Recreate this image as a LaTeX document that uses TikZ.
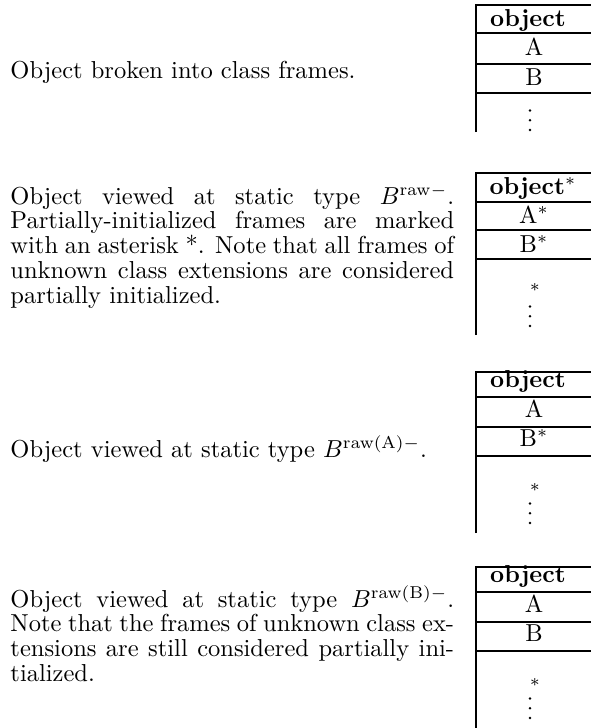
\documentclass[tikz,border=0pt]{standalone}
\newcommand\jline[1]{\hbox to 181pt{#1}}
\newcommand\nline[1]{\hbox{#1}}
\newcommand\parastack[1]{\vtop{\baselineskip=10.1pt\lineskiplimit=-10pt\relax #1}}
\tikzset{
  rowrule/.style={line width=0.55pt},
  edgerule/.style={line width=1.15pt},
  desc/.style={anchor=base west, inner sep=0pt},
  cell/.style={anchor=base, inner sep=0pt},
  star/.style={inner sep=0pt},
}
\newcommand\classbox[5]{%
  \draw[edgerule] (476,#5) -- (476,#1) -- (591,#1);
  \draw[rowrule] (476,#2) -- (591,#2) (476,#3) -- (591,#3) (476,#4) -- (591,#4);
}
% vertical ellipsis drawn as three dots; argument = centre of the lowest dot
\newcommand\vdotsat[1]{%
  \fill (530,#1) circle[radius=0.55pt] (530,#1-9.8) circle[radius=0.55pt] (530,#1-19.6) circle[radius=0.55pt];
}
\begin{document}
\begin{tikzpicture}[x=0.408pt, y=-0.408pt]
\useasboundingbox (0,0) rectangle (591,728);

% Panel 1
\node[desc] (t1) at (10,78) {Object broken into class frames.};
\classbox{5}{33}{64}{93}{132}
\node[cell] (o1) at (528,26) {\bfseries object};
\node[cell] (a1) at (534,55) {A};
\node[cell] (b1) at (534,85) {B};
\vdotsat{130}

% Panel 2
\node[desc] (t2) at (10,204) {\parastack{%
\jline{Object viewed at static type $B^{\mathrm{raw}-}$.}
\jline{Partially-initialized frames are marked}
\jline{with an asterisk *. Note that all frames of}
\jline{unknown class extensions are considered}
\nline{partially initialized.}}};
\classbox{173}{202}{230}{259}{335}
\node[cell] (o2) at (533,194) {\bfseries object$^*$};
\node[cell] (a2) at (534,223) {A$^*$};
\node[cell] (b2) at (534,252) {B$^*$};
\node[star] (s2) at (535,288) {$\scriptstyle\ast$};
\vdotsat{326}

% Panel 3
\node[desc] (t3) at (10,457) {Object viewed at static type $B^{\mathrm{raw(A)}-}$.};
\classbox{372}{397}{427}{456}{533}
\node[cell] (o3) at (528,387) {\bfseries object};
\node[cell] (a3) at (534,417) {A};
\node[cell] (b3) at (534,446) {B$^*$};
\node[star] (s3) at (535,488) {$\scriptstyle\ast$};
\vdotsat{523}

% Panel 4
\node[desc] (t4) at (10,607) {\parastack{%
\jline{Object viewed at static type $B^{\mathrm{raw(B)}-}$.}
\jline{Note that the frames of unknown class ex-}
\jline{tensions are still considered partially ini-}
\nline{tialized.}}};
\classbox{567}{592}{622}{651}{728}
\node[cell] (o4) at (528,582) {\bfseries object};
\node[cell] (a4) at (534,612) {A};
\node[cell] (b4) at (534,641) {B};
\node[star] (s4) at (535,683) {$\scriptstyle\ast$};
\vdotsat{718}
\end{tikzpicture}
\end{document}
